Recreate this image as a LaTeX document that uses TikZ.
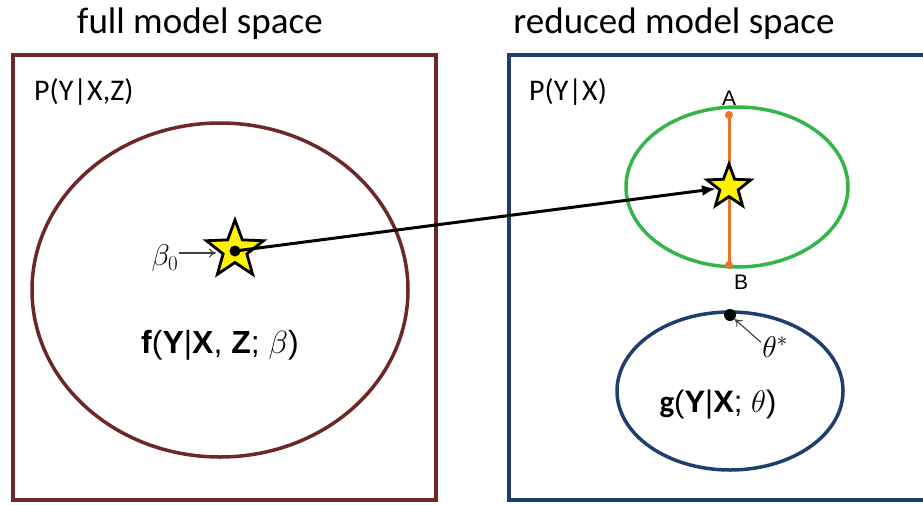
\RequirePackage{fix-cm}
\documentclass[tikz,border=0pt]{standalone}
\usepackage{fontspec}
\setmainfont{Carlito}
\newfontfamily\arialf{Liberation Sans}
\usetikzlibrary{shapes.geometric,arrows.meta}
\definecolor{boxred}{HTML}{6E2626}
\definecolor{boxblue}{HTML}{1F3E6E}
\definecolor{ellgreen}{HTML}{33B54A}
\definecolor{segorange}{HTML}{E8772A}
\definecolor{staryellow}{HTML}{FFF200}
\tikzset{
  title/.style={font=\fontsize{37}{40}\selectfont, inner sep=0pt},
  ptext/.style={font=\fontsize{30}{32}\selectfont, anchor=west, inner sep=0pt},
  mlabel/.style={font=\arialf\fontsize{32}{36}\selectfont, inner sep=0pt},
  ab/.style={font=\arialf\fontsize{21}{23}\selectfont, inner sep=0pt},
  greek/.style={font=\fontsize{30}{32}\selectfont, inner sep=0pt},
  starnode/.style={star, star points=5, star point ratio=2.4, draw=black, line width=2.8pt, fill=staryellow, inner sep=0pt},
  dotnode/.style={circle, fill=black, inner sep=0pt},
  spacebox/.style={line width=3.5pt},
  region/.style={ellipse, line width=3.5pt, inner sep=0pt},
  thin arrow/.style={draw=black!75, line width=1.1pt, -{To[length=7pt,width=9pt]}},
}
\begin{document}
\begin{tikzpicture}[x=1pt,y=-1pt]
\useasboundingbox (0,0) rectangle (923,504);
\clip (0,0) rectangle (923,504);

% titles
\node[title] (t1) at (200,24) {full model space};
\node[title] (t2) at (674,24) {reduced model space};

% boxes
\draw[spacebox, draw=boxred] (13,55) rectangle (436,500);
\draw[spacebox, draw=boxblue] (509,55) rectangle (940,500);

\node[ptext] (p1) at (34,92) {P(Y|X,Z)};
\node[ptext] (p2) at (529,92) {P(Y|X)};

% left region
\node[region, draw=boxred, minimum width=376pt, minimum height=334pt] (fell) at (220,290) {};
\node[mlabel] (flab) at (220,345) {\textbf{f}(\textbf{Y}|\textbf{X}, \textbf{Z}; $\beta$)};

% green region and segment
\node[region, draw=ellgreen, minimum width=222pt, minimum height=160pt] (gell) at (737,187) {};
\node[dotnode, fill=segorange, minimum size=8pt] (pa) at (729,115) {};
\node[dotnode, fill=segorange, minimum size=8pt] (pb) at (729,265) {};
\draw[segorange, line width=3pt] (pa.center) -- (pb.center);
\node[ab] (A) at (729,98) {A};
\node[ab] (B) at (741,282) {B};

% blue region
\node[region, draw=boxblue, minimum width=226pt, minimum height=158pt] (bell) at (730,391) {};
\node[mlabel, font=\arialf\fontsize{31}{34}\selectfont] (glab) at (718,405) {$\mathbf{g}$(\textbf{Y}|\textbf{X}; $\theta$)};
\node[dotnode, minimum size=12pt] (tdot) at (730,315) {};
\node[greek] (th) at (775,347) {$\theta^*$};
\draw[thin arrow] (th.north west) ++(-1,6) -- (tdot);

% stars
\node[starnode, minimum size=60pt] (lstar) at (235,250) {};
\node[dotnode, minimum size=11pt] (ldot) at (235,251) {};
\node[starnode, minimum size=46pt] (rstar) at (729,187) {};

\node[greek] (b0) at (165,258) {$\beta_0$};
\draw[thin arrow] (b0.east) ++(0,-5) -- (lstar.west |- 0,253);

% main arrow
\draw[line width=3pt, -{Latex[length=14pt,width=11pt]}] (ldot.center) -- (rstar);
\end{tikzpicture}
\end{document}
